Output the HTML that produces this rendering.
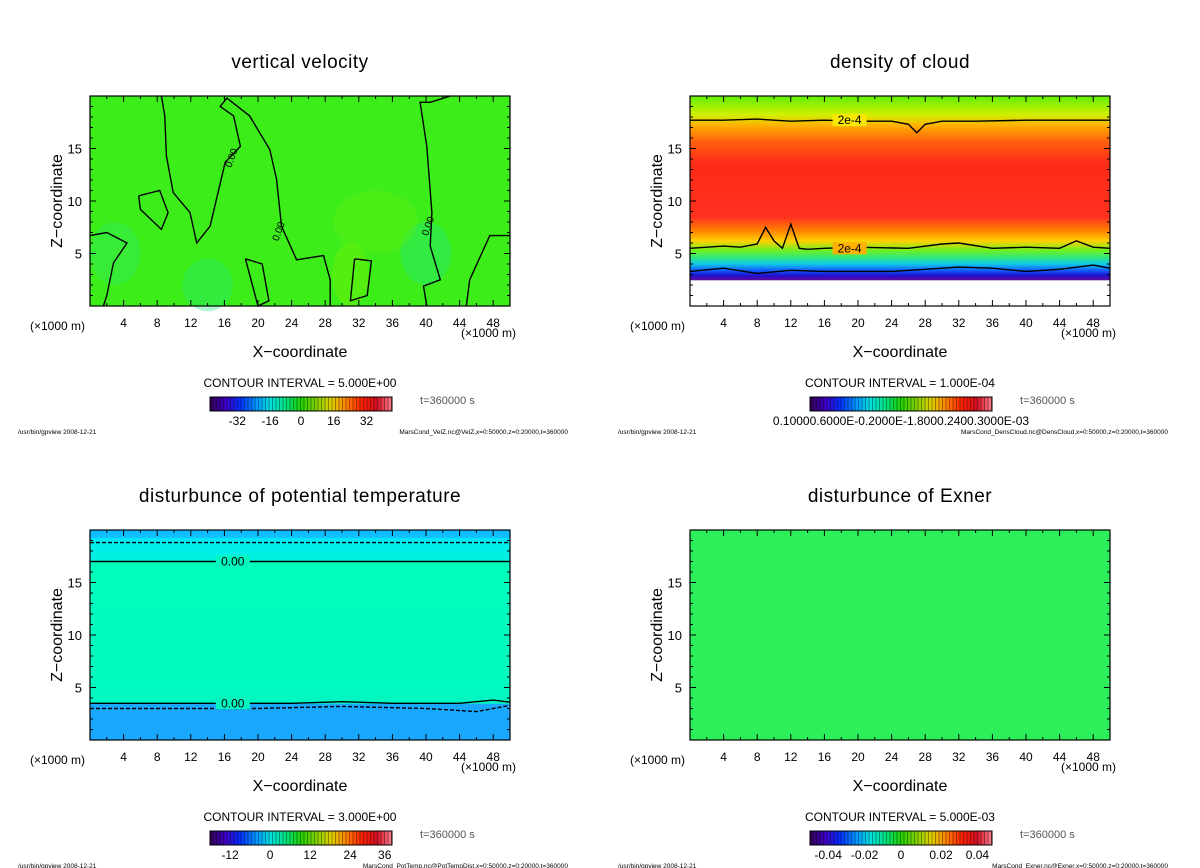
<!DOCTYPE html>
<html><head><meta charset="utf-8"><style>
body{margin:0;background:#fff;}
svg{display:block;font-family:"Liberation Sans",sans-serif;}
</style></head><body>
<svg id="fig" width="1200" height="868" viewBox="0 0 1200 868" xmlns="http://www.w3.org/2000/svg"></svg>
<script>
// ---- data ----
const xTicks = [4,8,12,16,20,24,28,32,36,40,44,48];
const zTicks = [5,10,15];
const titles = ["vertical velocity","density of cloud","disturbunce of potential temperature","disturbunce of Exner"];
const intervals = ["5.000E+00","1.000E-04","3.000E+00","5.000E-03"];
const cbLabels = [["-32","-16","0","16","32"],["0.10000.6000E-0.2000E-1.8000.2400.3000E-03"],["-12","0","12","24","36"],["-0.04","-0.02","0","0.02","0.04"]];
const cbFrac = [[0.15,0.33,0.5,0.68,0.86],[0.5],[0.11,0.33,0.55,0.77,0.96],[0.1,0.3,0.5,0.72,0.92]];
const footers = ["MarsCond_VelZ.nc@VelZ,x=0:50000,z=0:20000,t=360000","MarsCond_DensCloud.nc@DensCloud,x=0:50000,z=0:20000,t=360000","MarsCond_PotTemp.nc@PotTempDist,x=0:50000,z=0:20000,t=360000","MarsCond_Exner.nc@Exner,x=0:50000,z=0:20000,t=360000"];
// vertical colour profiles (z km, colour)
const profZ = [[0,20],[0,2.4,2.5,2.9,3.4,4.0,4.6,5.3,6.2,7.2,8.5,13.5,15.5,17.2,18.2,20],[0,3.4,3.5,17,17.1,18.8,19.2,19.3,20],[0,20]];
const profC = [["#3ced1a","#3ced1a"],["#ffffff","#ffffff","#5a0aa0","#2010d0","#1060ff","#10c8e8","#30e880","#70f020","#ffd000","#ff8000","#ff3020","#ff2a18","#ff5a10","#ffb000","#d0f000","#60f000"],["#1aa8ff","#1aa8ff","#00f8c0","#00ffbb","#00f0e0","#00eef0","#00e8ff","#10bfff","#10b8ff"],["#2def5a","#2def5a"]];
// contour polylines (x km, z km)
const velLinesX = [[8.5,8.9,9.1,9.9,11.9,12.7,14.3,16.1,17.9,17.1,15.5,16.3,19,21.4,22.2,22.8,24.6,27.8,28.6,28.6],[5.8,8.3,9.3,8.5,6,5.8],[0,2,4.4,2.8,2,1.6],[42.9,40.5,39.3,40.1,40.7,40.5,41.7,39.7,40.1],[50,47.6,45.2,44.8],[31.5,33.5,33,31,31.5],[18.5,20.5,21.3,20,18.5]];
const velLinesZ = [[20,18.1,14.3,10.8,8.9,6.0,7.6,13.7,15.2,18.1,19,19.8,18.1,14.9,12.1,7.6,4.4,4.8,2.5,0],[10.5,11,8.9,7.3,9.2,10.5],[6.7,7,6,4.1,1,0],[20,19.4,19.4,15.2,8.9,5.7,2.5,1.9,0],[6.7,6.7,2.5,0],[4.5,4.3,1,0.5,4.5],[4.5,4,0.5,0,4.5]];
const densLinesX = [[0,4,8,12,16,20,24,26,27,28,30,34,40,44,48,50],[0,4,6,8,9,10,11,12,13,14,16,20,26,30,32,36,40,44,46,48,50],[0,4,8,12,16,20,24,28,32,36,40,44,48,50]];
const densLinesZ = [[17.7,17.7,17.8,17.6,17.7,17.6,17.6,17.3,16.5,17.3,17.6,17.6,17.7,17.7,17.7,17.7],[5.5,5.7,5.6,5.9,7.5,6.2,5.5,7.8,5.5,5.4,5.5,5.6,5.5,5.9,6.0,5.5,5.6,5.5,6.2,5.6,5.5],[3.3,3.6,3.1,3.4,3.3,3.3,3.3,3.5,3.7,3.6,3.3,3.5,3.9,3.6]];
const ptLinesX = [[0,50],[0,24,30,36,44,48,50],[0,50],[0,20,30,40,46,50]];
const ptLinesZ = [[17,17],[3.5,3.5,3.65,3.5,3.5,3.8,3.6],[18.8,18.8],[3.0,3.0,3.2,3.0,2.7,3.3]];
const ptDash = [false,false,true,true];

// ---- drawing ----
const NS="http://www.w3.org/2000/svg";
const svg=document.getElementById('fig');
function el(tag,attrs,parent,txt){const e=document.createElementNS(NS,tag);for(const k in attrs)e.setAttribute(k,attrs[k]);if(txt!==undefined)e.textContent=txt;(parent||svg).appendChild(e);return e;}
const W=420,H=210;
const defs=el('defs',{});
const origins=[[90,96],[690,96],[90,530],[690,530]];
function drawLines(g,ox,oy,xs,zs,opts){
  const xS=v=>ox+v/50*W, zS=v=>oy+H-v/20*H;
  xs.forEach((arr,i)=>{
    const pts=arr.map((x,j)=>xS(x).toFixed(1)+','+zS(zs[i][j]).toFixed(1)).join(' ');
    const p=el('polyline',{points:pts,fill:'none',stroke:'#000','stroke-width':opts.w||1.3,'stroke-dasharray':(opts.dash&&opts.dash[i])?'4,2':'none'},g);
    
    
  });
}
origins.forEach((o,i)=>{
  const [ox,oy]=o;
  const g=el('g',{});
  
  
  const xS=v=>ox+v/50*W, zS=v=>oy+H-v/20*H;
  const gr=el('linearGradient',{id:'gr'+i,x1:0,y1:1,x2:0,y2:0},defs);
  profZ[i].forEach((z,j)=>el('stop',{offset:z/20,'stop-color':profC[i][j]},gr));
  const r=el('rect',{x:ox,y:oy,width:W,height:H,fill:'url(#gr'+i+')'},g);
  
  
  if(i===0){
    [[31,3,2.2,3,'#80f000'],[14,2,3,2.5,'#20e880'],[40,5,3,3,'#20e890'],[3,5,3,3,'#30e870'],[34,8,5,3,'#66ee10']].forEach(b=>{
      const e=el('ellipse',{cx:xS(b[0]),cy:zS(b[1]),rx:b[2]/50*W,ry:b[3]/20*H,fill:b[4],opacity:0.35},g);
      
    });
    drawLines(g,ox,oy,velLinesX,velLinesZ,{w:1.4});
    [[17.2,14,'0.00'],[22.8,7,'0.00'],[40.6,7.5,'0.00']].forEach(t=>{const tx=el('text',{x:xS(t[0]),y:zS(t[1]),'font-size':10,transform:`rotate(-70 ${xS(t[0])} ${zS(t[1])})`,'text-anchor':'middle'},g,t[2]);});
  }
  if(i===1){
    drawLines(g,ox,oy,densLinesX,densLinesZ,{w:1.4,dash:[false,false,false]});
    [[19,17.7],[19,5.5]].forEach(t=>{el('rect',{x:xS(t[0])-17,y:zS(t[1])-6,width:34,height:12,fill:t[1]>10?'#f8e800':'#ffb000'},g);const tx=el('text',{x:xS(t[0]),y:zS(t[1])+4,'font-size':12,'text-anchor':'middle'},g,'2e-4');});
  }
  if(i===2){
    drawLines(g,ox,oy,ptLinesX,ptLinesZ,{w:1.4,dash:ptDash});
    [[17,17],[17,3.5]].forEach(t=>{el('rect',{x:xS(t[0])-17,y:zS(t[1])-6,width:34,height:12,fill:'#00f8c0'},g);const tx=el('text',{x:xS(t[0]),y:zS(t[1])+4,'font-size':12,'text-anchor':'middle'},g,'0.00');});
  }
  el('rect',{x:ox,y:oy,width:W,height:H,fill:'none',stroke:'#000','stroke-width':1.2},g);
  for(let x=2;x<50;x+=2){const L=x%4===0?6:3;el('line',{x1:xS(x),x2:xS(x),y1:oy+H,y2:oy+H-L,stroke:'#000'},g);el('line',{x1:xS(x),x2:xS(x),y1:oy,y2:oy+L,stroke:'#000'},g);}
  for(let z=1;z<20;z++){const L=z%5===0?6:3;el('line',{x1:ox,x2:ox+L,y1:zS(z),y2:zS(z),stroke:'#000'},g);el('line',{x1:ox+W,x2:ox+W-L,y1:zS(z),y2:zS(z),stroke:'#000'},g);}
  xTicks.forEach(t=>{const tx=el('text',{x:xS(t),y:oy+H+21,'font-size':12,'text-anchor':'middle'},g,t);});
  zTicks.forEach(t=>{const tx=el('text',{x:ox-8,y:zS(t)+5,'font-size':13,'text-anchor':'end'},g,t);});
  const cx=ox+210;
  let t;
  t=el('text',{x:cx,y:oy-28,'font-size':19,'text-anchor':'middle','letter-spacing':'0.5'},g,titles[i]);
  t=el('text',{x:ox-28,y:oy+105,'font-size':16,'text-anchor':'middle',transform:`rotate(-90 ${ox-28} ${oy+105})`},g,'Z\u2212coordinate');
  t=el('text',{x:ox-60,y:oy+H+24,'font-size':12},g,'(\u00d71000 m)');
  t=el('text',{x:ox+W+6,y:oy+H+31,'font-size':12,'text-anchor':'end'},g,'(\u00d71000 m)');
  t=el('text',{x:cx,y:oy+H+51,'font-size':16,'text-anchor':'middle'},g,'X\u2212coordinate');
  t=el('text',{x:cx,y:oy+H+81,'font-size':12,'text-anchor':'middle'},g,'CONTOUR INTERVAL = '+intervals[i]);
  t=el('text',{x:ox+330,y:oy+H+98,'font-size':11,fill:'#555'},g,'t=360000 s');
  const bx=ox+120,by=oy+H+91,bw=182,bh=14;
  const cg=el('linearGradient',{id:'cb'+i,x1:0,y1:0,x2:1,y2:0},defs);
  ['#300050','#4000c0','#0030ff','#0090ff','#00e0e0','#00e080','#20d000','#80d000','#e0d000','#ff8000','#ff2000','#d01020','#ff8090'].forEach((c,k,a)=>el('stop',{offset:k/(a.length-1),'stop-color':c},cg));
  const cb=el('rect',{x:bx,y:by,width:bw,height:bh,fill:'url(#cb'+i+')',stroke:'#000','stroke-width':1},g);
  
  for(let k=bx+3;k<bx+bw;k+=3.5)el('line',{x1:k,x2:k,y1:by,y2:by+bh,stroke:'#000','stroke-width':0.6,opacity:0.6},g);
  cbLabels[i].forEach((l,k)=>{const tx=el('text',{x:bx+cbFrac[i][k]*bw,y:by+bh+14,'font-size':12,'text-anchor':'middle'},g,l);});
  t=el('text',{x:ox-72,y:oy+H+128,'font-size':6.5},g,'/usr/bin/gpview   2008-12-21');
  t=el('text',{x:ox+478,y:oy+H+128,'font-size':6.5,'text-anchor':'end'},g,footers[i]);
});
</script>
</body></html>
